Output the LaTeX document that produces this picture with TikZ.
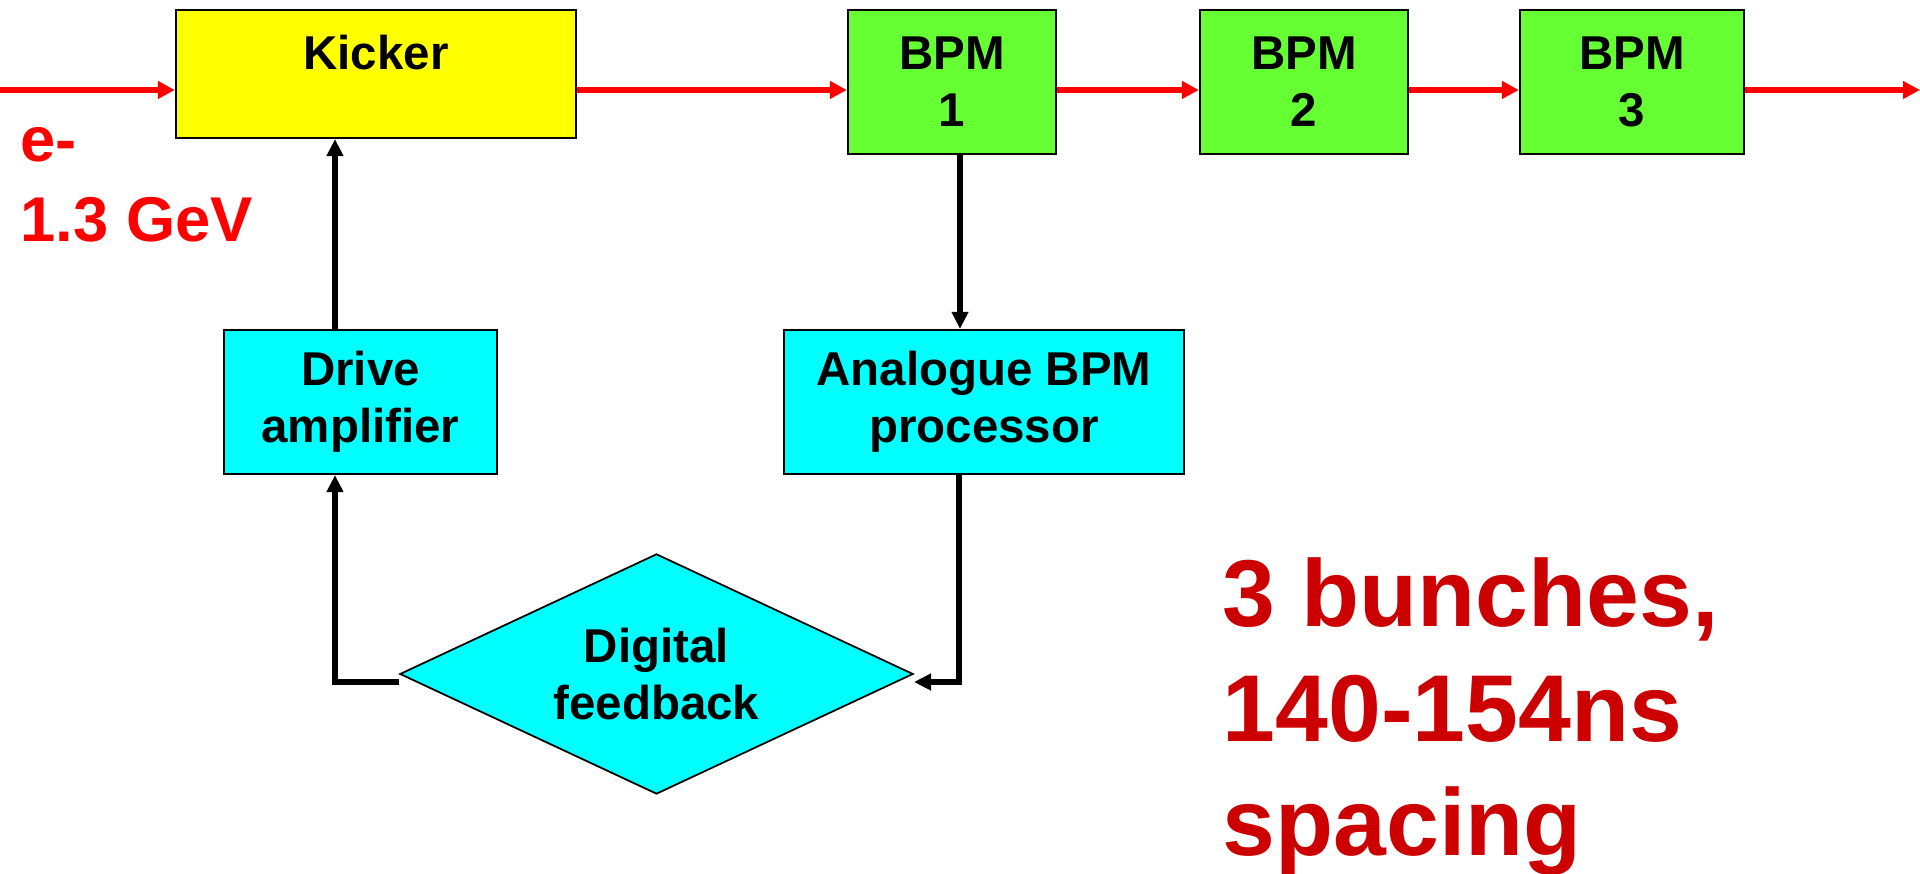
\documentclass[tikz,border=0pt]{standalone}
\usepackage{fontspec}
\setmainfont{Liberation Sans}
\usetikzlibrary{arrows.meta,shapes.geometric}

\definecolor{amarillo}{HTML}{FFFF00}
\definecolor{verde}{HTML}{66FF33}
\definecolor{cian}{HTML}{00FFFF}
\definecolor{rojo}{HTML}{FF0000}
\definecolor{granate}{HTML}{CC0000}

\tikzset{
	caja/.style={rectangle, draw, line width=0.6pt, inner sep=0pt, align=center,
		font=\fontsize{13.5}{16.2}\selectfont\bfseries},
	haz/.style={draw=rojo, line width=1.7pt, -{Triangle[length=1.7mm, width=1.7mm]}},
	senal/.style={draw, line width=1.6pt, -{Triangle[length=1.7mm, width=1.6mm]}}
}

\begin{document}
\begin{tikzpicture}[x=0.01cm, y=-0.01cm]
\useasboundingbox (0,0) rectangle (1920,874);

% Bloques del haz
\node[caja, fill=amarillo, minimum width=40mm, text height=6mm, text depth=6.8mm] (kicker) at (376,74) {Kicker};
\node[caja, fill=verde, minimum width=20.8mm, minimum height=14.4mm] (bpm1) at (952,82) {BPM\\1};
\node[caja, fill=verde, minimum width=20.8mm, minimum height=14.4mm] (bpm2) at (1304,82) {BPM\\2};
\node[caja, fill=verde, minimum width=22.4mm, minimum height=14.4mm] (bpm3) at (1632,82) {BPM\\3};

% Lazo de realimentacion
\node[caja, fill=cian, minimum width=27.3mm, minimum height=14.4mm] (drive) at (360.5,402) {Drive\\amplifier};
\node[caja, fill=cian, minimum width=40mm, minimum height=14.4mm] (analog) at (984,402) {Analogue BPM\\processor};
\node[diamond, draw, fill=cian, line width=0.5pt, aspect=2.14, inner sep=0pt, minimum width=51.3mm, minimum height=24mm,
	align=center, font=\fontsize{13.5}{16.2}\selectfont\bfseries] (dfb) at (656.5,674) {Digital\\feedback};

% Haz
\coordinate (hazin) at (0,90);
\coordinate (hazout) at (1920,90);
\draw[haz] (hazin) -- (hazin -| kicker.west);
\foreach \a/\b in {kicker/bpm1, bpm1/bpm2, bpm2/bpm3}
	\draw[haz] (hazin -| \a.east) -- (hazin -| \b.west);
\draw[haz] (hazin -| bpm3.east) -- (hazout);

% Senales
\draw[senal] ([xshift=0.8mm]bpm1.south) -- ([xshift=0.8mm]bpm1.south |- analog.north);
\draw[senal] ([xshift=-2.5mm]analog.south) |- ([yshift=-0.8mm]dfb.east);
\draw[senal] ([yshift=-0.8mm]dfb.west) -| ([xshift=-2.55mm]drive.south);
\draw[senal] ([xshift=-2.55mm]drive.north) -- ([xshift=-2.55mm]drive.north |- kicker.south);

% Textos
\node[anchor=north west, inner sep=0pt, align=left, text=rojo, font=\fontsize{18}{22.8}\selectfont\bfseries] (energia) at (20,127) {e-\\1.3 GeV};
\node[anchor=north west, inner sep=0pt, align=left, text=granate, font=\fontsize{27}{32.6}\selectfont\bfseries] (bunches) at (1222,557) {3 bunches,\\140-154ns\\spacing};
\end{tikzpicture}
\end{document}
